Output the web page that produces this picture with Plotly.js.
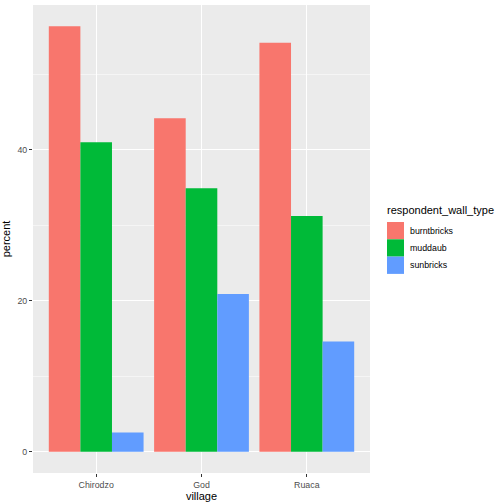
<!DOCTYPE html>
<html>
<head>
<meta charset="utf-8">
<script src="https://cdn.plot.ly/plotly-3.0.1.min.js"></script>
<style>
    html, body { margin: 0; padding: 0; background: #ffffff; }
    #chart { width: 504px; height: 504px; }
</style>
</head>
<body>
<div id="chart"></div>
<script>
const villages = ["Chirodzo", "God", "Ruaca"];
const wallTypes = ["burntbricks", "muddaub", "sunbricks"];
const burntbricksPercent = [56.4, 44.2, 54.2];
const muddaubPercent = [41.0, 34.9, 31.25];
const sunbricksPercent = [2.56, 20.9, 14.6];
const wallColors = ["#F8766D", "#00BA38", "#619CFF"];
const yTicks = [0, 20, 40];

const seriesValues = [burntbricksPercent, muddaubPercent, sunbricksPercent];

// panel box in pixels, used to place the hand-built legend
const margin = { l: 33, r: 134, t: 5, b: 31 };
const panelHeight = 504 - margin.t - margin.b;
const toPaperY = (py) => (504 - margin.b - py) / panelHeight;

const traces = wallTypes.map((wallType, index) => ({
    type: "bar",
    name: wallType,
    x: villages,
    y: seriesValues[index],
    marker: { color: wallColors[index], line: { width: 0 } },
    showlegend: false,
    hoverinfo: "x+y+name",
}));

const shapes = [];
const annotations = [
    {
        xref: "paper", yref: "paper",
        x: 1, xshift: 15, y: toPaperY(210),
        xanchor: "left", yanchor: "middle",
        text: "respondent_wall_type",
        showarrow: false,
        font: { size: 11, color: "#000000" },
    },
];
wallTypes.forEach((wallType, index) => {
    const top = 222 + index * 17.3;
    shapes.push({
        type: "rect",
        xref: "paper", yref: "paper",
        xsizemode: "pixel", xanchor: 1,
        x0: 17, x1: 34,
        y0: toPaperY(top + 17.3), y1: toPaperY(top),
        fillcolor: wallColors[index],
        line: { width: 0 },
    });
    annotations.push({
        xref: "paper", yref: "paper",
        x: 1, xshift: 38, y: toPaperY(top + 8.6),
        xanchor: "left", yanchor: "middle",
        text: wallType,
        showarrow: false,
        font: { size: 8.8, color: "#000000" },
    });
});

Plotly.newPlot(
    "chart",
    traces,
    {
        width: 504,
        height: 504,
        margin: margin,
        barmode: "group",
        bargap: 0.1,
        bargroupgap: 0,
        paper_bgcolor: "#ffffff",
        plot_bgcolor: "#EBEBEB",
        font: { family: "\"Liberation Sans\", Arial, sans-serif", color: "#4D4D4D", size: 8.8 },
        xaxis: {
            type: "category",
            range: [-0.6, 2.6],
            showgrid: true,
            gridcolor: "#ffffff",
            gridwidth: 1.1,
            zeroline: false,
            showline: false,
            ticks: "outside",
            ticklen: 3,
            tickcolor: "#333333",
            tickwidth: 1,
            tickfont: { size: 8.8, color: "#4D4D4D" },
            title: { text: "village", font: { size: 11, color: "#000000" }, standoff: 3 },
        },
        yaxis: {
            range: [-2.82, 59.2],
            tickvals: yTicks,
            ticktext: yTicks.map(String),
            showgrid: true,
            gridcolor: "#ffffff",
            gridwidth: 1.1,
            minor: { dtick: 10, tick0: 10, showgrid: true, gridcolor: "#ffffff", gridwidth: 0.5, ticks: "" },
            zeroline: false,
            showline: false,
            ticks: "outside",
            ticklen: 3,
            tickcolor: "#333333",
            tickwidth: 1,
            tickfont: { size: 8.8, color: "#4D4D4D" },
            title: { text: "percent", font: { size: 11, color: "#000000" }, standoff: 4 },
        },
        shapes: shapes,
        annotations: annotations,
    },
    { displayModeBar: false, staticPlot: true },
);
</script>
</body>
</html>
